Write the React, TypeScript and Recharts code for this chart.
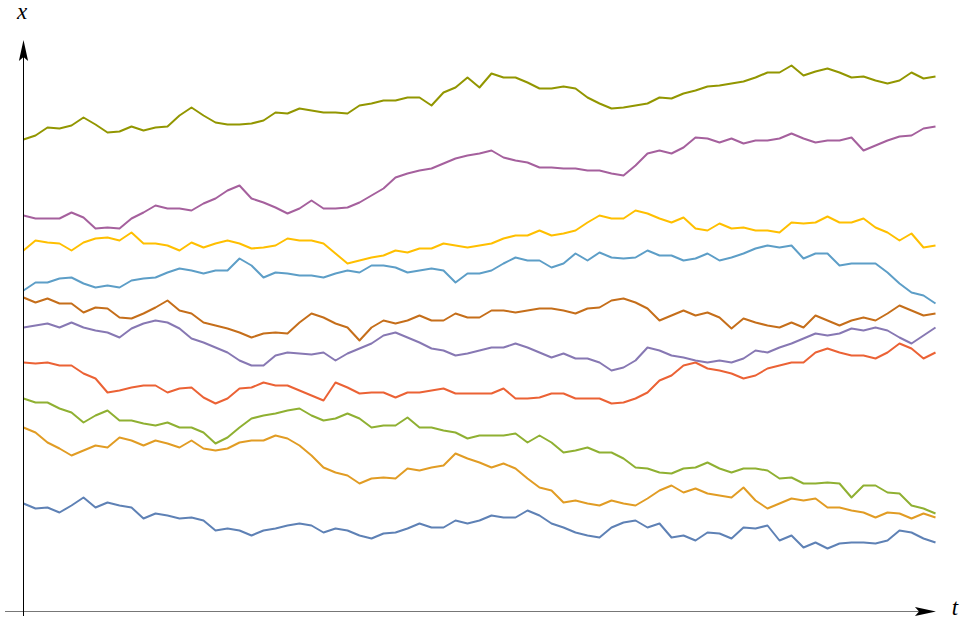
import React from "react";
import { LineChart, Line, XAxis, YAxis, ReferenceLine } from "recharts";

// time steps (uniform grid)
const T: number[] = Array.from({ length: 77 }, (_, i) => i);

// path values (x(t)), bottom to top
const pathBlue = [108,103,104,99,106,114,104,109,106,104,93,98,96,93,94,91,81,83,81,76,81,83,86,88,86,79,83,81,76,73,78,79,83,88,84,84,91,88,91,96,94,94,101,96,88,84,79,76,74,84,89,91,84,88,74,76,71,79,78,73,84,83,86,71,76,64,69,63,68,69,69,68,71,81,79,73,69];
const pathOrange = [184,179,169,163,156,161,166,164,174,171,166,171,168,164,171,163,161,163,169,171,171,176,173,166,156,144,139,136,128,133,134,133,143,141,144,146,158,153,149,144,148,143,133,124,121,109,111,108,106,111,108,106,113,121,126,119,123,118,116,114,124,111,103,108,113,111,113,104,104,101,99,94,99,98,93,98,94];
const pathGreen = [213,209,209,203,199,189,196,201,191,191,188,186,189,184,184,179,168,174,184,193,196,198,201,203,196,191,193,198,193,184,186,186,194,184,184,181,179,173,176,176,176,178,169,176,169,159,161,164,159,159,153,144,143,139,138,143,144,149,143,139,143,143,141,133,134,128,128,129,128,114,126,126,119,118,106,103,98];
const pathRed = [249,248,249,246,246,238,233,219,221,224,226,226,219,223,224,214,208,213,223,224,229,226,226,221,216,211,229,224,218,219,219,214,219,219,221,223,218,218,218,218,223,213,213,214,218,218,213,213,213,208,209,213,219,231,236,246,249,243,241,238,233,236,243,246,249,249,259,263,259,256,256,253,259,268,263,253,259];
const pathViolet = [284,286,288,284,289,284,281,279,274,283,288,291,289,283,273,269,264,259,251,246,246,256,259,258,257,259,251,258,263,268,276,279,274,269,263,261,256,258,261,264,264,268,264,259,254,258,253,253,249,241,244,251,264,261,256,254,251,249,251,249,253,261,259,264,268,273,278,276,278,283,281,284,281,274,268,276,284];
const pathBrown = [314,309,313,308,308,299,304,303,294,293,298,304,311,301,298,289,286,283,279,274,278,279,278,289,298,294,288,284,271,284,291,288,291,296,291,291,298,294,294,301,301,299,301,303,303,301,298,303,304,311,313,309,303,291,296,301,296,299,294,283,293,289,286,284,289,284,296,291,286,291,294,291,298,306,301,296,298];
const pathSky = [321,329,329,333,334,328,324,326,324,331,333,334,339,343,341,338,341,341,353,346,334,339,338,336,336,334,338,341,339,346,346,344,339,341,343,341,329,338,338,341,348,354,351,351,344,348,358,351,359,354,353,354,361,356,356,351,353,358,351,354,358,363,366,364,366,353,358,358,346,348,348,348,339,328,319,316,308];
const pathYellow = [361,371,369,368,361,369,373,374,371,379,368,368,366,361,369,364,368,371,368,363,364,366,373,371,371,368,358,348,351,354,356,361,359,363,363,368,366,364,366,368,373,376,376,381,376,378,381,389,396,393,393,401,398,393,389,394,383,381,388,383,384,381,381,379,389,388,389,395,389,389,393,384,379,371,378,364,366];
const pathPurple = [396,393,393,393,399,394,383,384,383,393,399,406,403,403,401,408,413,421,426,413,409,404,398,403,411,403,403,404,409,416,423,434,438,441,443,448,453,456,458,461,454,451,449,444,444,443,443,441,441,438,436,446,458,461,458,464,474,473,469,473,468,471,471,473,478,473,469,471,471,474,461,466,471,475,476,483,485];
const pathOlive = [472,476,484,483,486,494,487,479,480,485,481,484,485,496,504,496,489,487,487,488,491,499,498,503,501,499,499,498,506,508,511,511,514,514,506,519,524,534,524,538,534,534,529,523,523,525,523,514,508,503,504,506,508,514,513,518,521,525,526,528,530,534,539,539,546,536,540,543,539,534,535,531,528,531,539,533,535];

const SERIES = [
  { key: "p1", values: pathBlue, color: "#5E81B5" },
  { key: "p2", values: pathOrange, color: "#E19C24" },
  { key: "p3", values: pathGreen, color: "#8FB032" },
  { key: "p4", values: pathRed, color: "#EB6235" },
  { key: "p5", values: pathViolet, color: "#8778B3" },
  { key: "p6", values: pathBrown, color: "#C56E1A" },
  { key: "p7", values: pathSky, color: "#5D9EC7" },
  { key: "p8", values: pathYellow, color: "#FFBF00" },
  { key: "p9", values: pathPurple, color: "#A5609D" },
  { key: "p10", values: pathOlive, color: "#929600" },
];

const rows = T.map((t, i) => {
  const r: Record<string, number> = { t };
  SERIES.forEach((s) => {
    r[s.key] = s.values[i];
  });
  return r;
});

const W = 962;
const H = 621;
const MARGIN = { top: 39.5, right: 26.5, bottom: 9.5, left: 23.5 };

const labelFont = "'Liberation Serif', 'DejaVu Serif', serif";

function arrowShape(label: string, axis: "x" | "y", color: string) {
  return (props: any) => {
    const { x1, y1, x2, y2 } = props;
    const dx = x2 - x1;
    const dy = y2 - y1;
    const len = Math.sqrt(dx * dx + dy * dy) || 1;
    const ux = dx / len;
    const uy = dy / len;
    const px = -uy;
    const py = ux;
    const L = 21;
    const w = 4.6;
    const n = 4;
    const bx = x2 - ux * L;
    const by = y2 - uy * L;
    const pts = [
      [x2, y2],
      [bx + px * w, by + py * w],
      [x2 - ux * (L - n), y2 - uy * (L - n)],
      [bx - px * w, by - py * w],
    ]
      .map((p) => p.join(","))
      .join(" ");
    const tx = axis === "x" ? x2 + 19 : x2 - 1.5;
    const ty = axis === "x" ? y2 + 3.5 : y2 - 21;
    return (
      <g>
        <line x1={x1} y1={y1} x2={x2 - ux * (L - n)} y2={y2 - uy * (L - n)} stroke={color} strokeWidth={1} />
        <polygon points={pts} fill="#000" />
        <text
          x={tx}
          y={ty}
          textAnchor="middle"
          fontFamily={labelFont}
          fontStyle="italic"
          fontSize={23}
          fill="#000"
        >
          {label}
        </text>
      </g>
    );
  };
}

export default function App() {
  return (
    <div style={{ position: "absolute", left: 0, top: 0, width: W, height: H, background: "#fff" }}>
      <LineChart width={W} height={H} data={rows} margin={MARGIN}>
        <XAxis dataKey="t" type="number" domain={[0, 76]} hide />
        <YAxis type="number" domain={[0, 572]} hide />
        {SERIES.map((s) => (
          <Line
            key={s.key}
            dataKey={s.key}
            stroke={s.color}
            strokeWidth={2}
            dot={false}
            activeDot={false}
            type="linear"
            strokeLinejoin="round"
            isAnimationActive={false}
          />
        ))}
        <ReferenceLine
          segment={[{ x: -1.54, y: 0 }, { x: 76.04, y: 0 }]}
          ifOverflow="visible"
          shape={arrowShape("t", "x", "#777")}
        />
        <ReferenceLine
          segment={[{ x: 0, y: -4.5 }, { x: 0, y: 571.5 }]}
          ifOverflow="visible"
          shape={arrowShape("x", "y", "#000")}
        />
      </LineChart>
    </div>
  );
}
